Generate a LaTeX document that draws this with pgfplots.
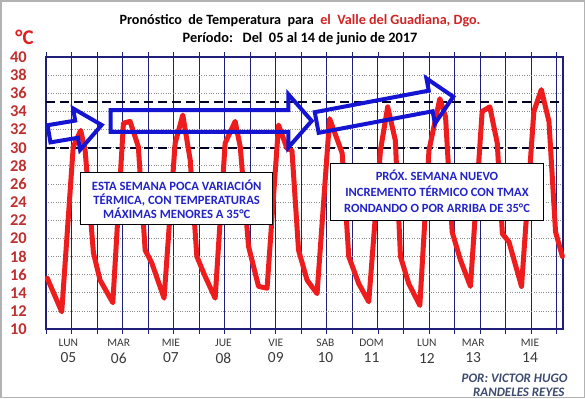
\documentclass[border=0pt]{standalone}
\usepackage{pgfplots}
\pgfplotsset{compat=1.18}
\usepackage{fontspec}
\setmainfont{Carlito}
\definecolor{navyg}{HTML}{1F1F7A}
\definecolor{arrowblue}{HTML}{1414D2}
\definecolor{boxblue}{HTML}{2323C8}
\definecolor{tickred}{HTML}{C03030}
\definecolor{degred}{HTML}{E02020}
\definecolor{titlered}{HTML}{D02525}
\definecolor{curvered}{HTML}{EE1C1C}
\definecolor{footblue}{HTML}{3C4A70}
\definecolor{daygray}{HTML}{3A3A3A}
\begin{document}
\begin{tikzpicture}[x=1bp,y=1bp]
\useasboundingbox (0,0) rectangle (585,-398);
\fill[white] (0,0) rectangle (585,-398);
\draw[black!30, line width=1.5bp] (0.75,-0.75) rectangle (584.25,-397.25);
\begin{axis}[
  at={(46bp,-329bp)}, anchor=south west,
  width=517bp, height=272bp, scale only axis,
  xmin=0, xmax=243, ymin=10, ymax=40,
  clip=false,
  xtick={0,12,...,240}, xticklabels={},
  ytick={10,12,...,40},
  xmajorgrids, ymajorgrids,
  x grid style={navyg, line width=0.9bp},
  y grid style={black!45, dotted, line width=0.7bp},
  axis line style={navyg, line width=1.5bp},
  tick align=outside,
  xtick style={navyg, line width=0.8bp},
  ytick style={draw=none},
  major tick length=5bp,
  yticklabel style={font=\fontsize{16.5}{17}\selectfont\bfseries, text=tickred, anchor=east, inner sep=0pt, xshift=-14bp},
  /pgf/number format/assume math mode=true,
]
\addplot[color=black!85!blue, line width=2bp, dash pattern=on 9bp off 5bp] coordinates {(0,30) (243,30)};
\addplot[color=black!85!blue, line width=2bp, dash pattern=on 9bp off 5bp] coordinates {(0,35) (243,35)};
\addplot[color=curvered, line width=5bp, line join=round, line cap=round] coordinates {
(0.6,15.6) (7.4,11.9) (12.8,30.1) (16.3,31.9) (18.4,29.7) (22.3,18.4) (25.4,15.4) (31.4,12.9)
(36.4,32.7) (39.5,32.9) (43.4,30.1) (46.6,18.7) (49.7,17.3) (55.5,13.4)
(60.7,30.5) (64.3,33.6) (67.8,28.6) (70.9,18.0) (74.8,15.8) (79.5,13.4)
(84.2,30.5) (88.9,32.9) (91.3,30.1) (95.2,19.1) (99.9,14.7) (103.9,14.5)
(109.3,32.5) (113.3,29.9) (115.6,29.7) (118.7,18.7) (122.7,15.4) (127.4,13.9)
(133.3,33.2) (139.2,29.4) (142.3,18.0) (147.0,15.0) (151.7,13.0)
(157.2,29.7) (160.6,34.5) (164.2,30.8) (166.6,18.0) (170.5,15.0) (175.7,12.6)
(180.0,29.7) (185.1,35.4) (187.8,33.4) (190.9,20.7) (194.8,17.6) (199.5,14.7)
(205.0,34.0) (208.6,34.5) (212.1,30.5) (214.5,20.5) (217.6,19.6) (223.5,14.7)
(229.3,34.0) (232.8,36.4) (236.4,32.9) (239.5,20.7) (242.7,18.0)
};
\begin{scope}[every node/.style={text=daygray}]
\node[font=\fontsize{11.5}{12}\selectfont] at (axis cs:10.5,10) [yshift=-14bp] {LUN};
\node[font=\fontsize{15.5}{16}\selectfont] at (axis cs:10.5,10) [yshift=-29bp] {05};
\node[font=\fontsize{11.5}{12}\selectfont] at (axis cs:34.2,10) [yshift=-14bp] {MAR};
\node[font=\fontsize{15.5}{16}\selectfont] at (axis cs:34.2,10) [yshift=-29bp] {06};
\node[font=\fontsize{11.5}{12}\selectfont] at (axis cs:58.7,10) [yshift=-14bp] {MIE};
\node[font=\fontsize{15.5}{16}\selectfont] at (axis cs:58.7,10) [yshift=-29bp] {07};
\node[font=\fontsize{11.5}{12}\selectfont] at (axis cs:83.4,10) [yshift=-14bp] {JUE};
\node[font=\fontsize{15.5}{16}\selectfont] at (axis cs:83.4,10) [yshift=-29bp] {08};
\node[font=\fontsize{11.5}{12}\selectfont] at (axis cs:108,10) [yshift=-14bp] {VIE};
\node[font=\fontsize{15.5}{16}\selectfont] at (axis cs:108,10) [yshift=-29bp] {09};
\node[font=\fontsize{11.5}{12}\selectfont] at (axis cs:131.3,10) [yshift=-14bp] {SAB};
\node[font=\fontsize{15.5}{16}\selectfont] at (axis cs:131.3,10) [yshift=-29bp] {10};
\node[font=\fontsize{11.5}{12}\selectfont] at (axis cs:153,10) [yshift=-14bp] {DOM};
\node[font=\fontsize{15.5}{16}\selectfont] at (axis cs:153,10) [yshift=-29bp] {11};
\node[font=\fontsize{11.5}{12}\selectfont] at (axis cs:179,10) [yshift=-14bp] {LUN};
\node[font=\fontsize{15.5}{16}\selectfont] at (axis cs:179,10) [yshift=-29bp] {12};
\node[font=\fontsize{11.5}{12}\selectfont] at (axis cs:200.8,10) [yshift=-14bp] {MAR};
\node[font=\fontsize{15.5}{16}\selectfont] at (axis cs:200.8,10) [yshift=-29bp] {13};
\node[font=\fontsize{11.5}{12}\selectfont] at (axis cs:227.5,10) [yshift=-14bp] {MIE};
\node[font=\fontsize{15.5}{16}\selectfont] at (axis cs:227.5,10) [yshift=-29bp] {14};
\end{scope}
\end{axis}
% arrows (annotation shapes, drawn over the curve, unfilled)
\begin{scope}[draw=arrowblue, line width=4bp, line join=miter]
\draw[shift={(49,-133.8)}, rotate=9.5] (0,-8.7) -- (28,-8.7) -- (28,-21) -- (53.4,0) -- (28,21) -- (28,8.7) -- (0,8.7) -- cycle;
\draw[shift={(110.7,-120.9)}] (0,-10.85) -- (177.6,-10.85) -- (177.6,-26.7) -- (201,0) -- (177.6,26.7) -- (177.6,10.85) -- (0,10.85) -- cycle;
\draw[shift={(316.7,-122.5)}, rotate=10.7] (0,-10.5) -- (116,-10.5) -- (116,-23) -- (139,0) -- (116,23) -- (116,10.5) -- (0,10.5) -- cycle;
\end{scope}
% text boxes
\draw[black, line width=0.8bp, fill=white] (80.7,-172.7) rectangle (272.7,-224);
\node[align=center, text=boxblue, font=\fontsize{12.7}{14}\selectfont\bfseries] at (176.7,-199.1) {ESTA SEMANA POCA VARIACIÓN\\TÉRMICA, CON TEMPERATURAS\\MÁXIMAS MENORES A 35°C};
\draw[black, line width=0.8bp, fill=white] (330.7,-163.3) rectangle (543.3,-220);
\node[align=center, text=boxblue, font=\fontsize{12.6}{16}\selectfont\bfseries] at (437,-191.2) {PRÓX. SEMANA NUEVO\\INCREMENTO TÉRMICO CON TMAX\\RONDANDO O POR ARRIBA DE 35°C};
% titles
\node[font=\fontsize{14.2}{16}\selectfont\bfseries] at (300,-20.5) {Pronóstico\ \ de Temperatura\ \ para\ \ \textcolor{titlered}{el\ \ Valle del Guadiana, Dgo.}};
\node[font=\fontsize{14.4}{16}\selectfont\bfseries] at (300,-38.4) {Período:\ \ \ Del\ \ 05 al 14 de junio de 2017};
\node[font=\fontsize{21}{22}\selectfont\bfseries, text=degred] at (24.5,-37) {°C};
% footer
\node[anchor=east, font=\fontsize{13}{14}\selectfont\bfseries\itshape, text=footblue] at (571,-378.5) {POR: VICTOR HUGO};
\node[anchor=east, font=\fontsize{13}{14}\selectfont\bfseries\itshape, text=footblue] at (568,-392) {RANDELES REYES};
\end{tikzpicture}
\end{document}
